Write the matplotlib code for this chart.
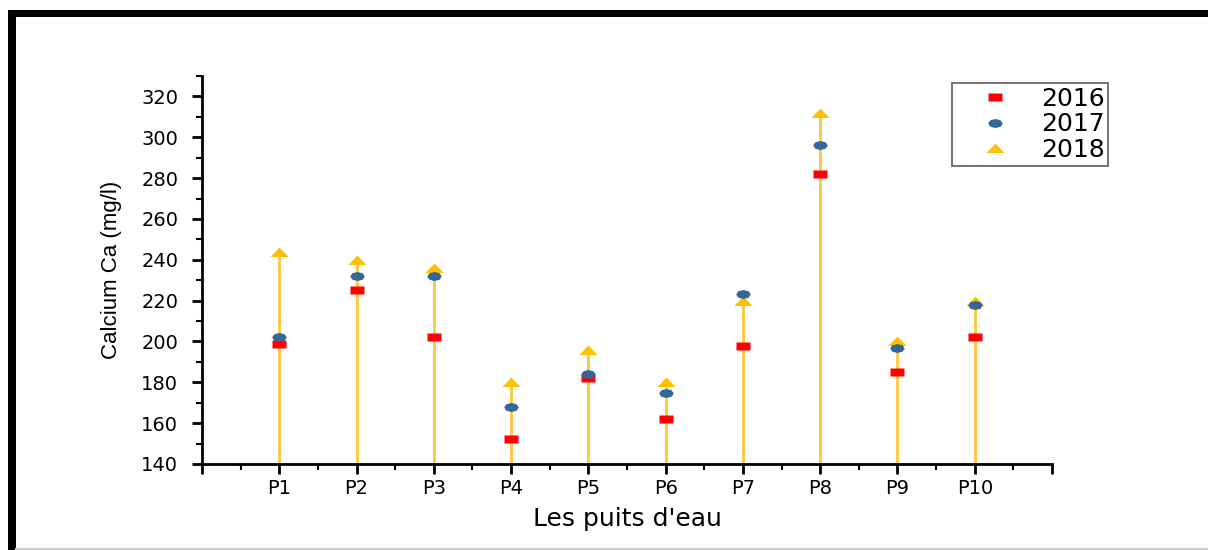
import numpy as np
import matplotlib
matplotlib.use("Agg")
import matplotlib.pyplot as plt
from matplotlib.lines import Line2D
from matplotlib.patches import Rectangle
from matplotlib.ticker import MultipleLocator

plt.rcParams['font.family'] = ['DejaVu Sans']

# calcium concentration per well (mg/l)
wells = ["P1", "P2", "P3", "P4", "P5", "P6", "P7", "P8", "P9", "P10"]
ca_2016 = [199, 225, 202, 152, 182, 162, 198, 282, 185, 202]
ca_2017 = [202, 232, 232, 168, 184, 175, 223, 296, 197, 218]
ca_2018 = [244, 240, 236, 180, 196, 180, 220, 312, 200, 220]

x = np.arange(1, len(wells) + 1)

# flattened markers (wider than tall)
rect = [(-1, -0.55), (1, -0.55), (1, 0.55), (-1, 0.55), (-1, -0.55)]
ell = [(np.cos(t), 0.62 * np.sin(t)) for t in np.linspace(0, 2 * np.pi, 9)]
tri = [(-1, -0.5), (1, -0.5), (0, 0.55), (-1, -0.5)]

fig = plt.figure(figsize=(12.08, 5.5), dpi=100)
ax = fig.add_axes([0.1672, 0.1564, 0.7037, 0.7054])

# drop lines for 2018
ax.vlines(x, 140, ca_2018, color="#ffc83a", lw=2, zorder=1)
ax.plot(x, ca_2016, ls="none", marker=rect, ms=10, color="#ff0000", mec="none", label="2016", zorder=3)
ax.plot(x, ca_2017, ls="none", marker=ell, ms=10.5, color="#336699", mec="none", label="2017", zorder=3)
ax.plot(x, ca_2018, ls="none", marker=tri, ms=13, color="#ffc000", mec="none", label="2018", zorder=2)

ax.set_xlim(0, 11)
ax.set_ylim(140, 330)
ax.set_xticks(np.arange(0, 12))
ax.set_xticklabels([""] + wells + [""])
ax.xaxis.set_minor_locator(MultipleLocator(0.5))
ax.set_yticks(np.arange(140, 321, 20))
ax.yaxis.set_minor_locator(MultipleLocator(10))

for s in ["top", "right"]:
    ax.spines[s].set_visible(False)
for s in ["left", "bottom"]:
    ax.spines[s].set_linewidth(2)
ax.tick_params(which="major", direction="out", length=7, width=2, labelsize=14)
ax.tick_params(axis="y", which="major", pad=10)
ax.tick_params(axis="x", which="major", pad=4)
ax.tick_params(which="minor", direction="out", length=4, width=1.5)

ax.set_xlabel("Les puits d'eau", fontsize=18, labelpad=6)
ax.set_ylabel("Calcium Ca (mg/l)", fontsize=16, labelpad=14,
              family=['Liberation Sans', 'DejaVu Sans'])

leg = ax.legend(loc="upper left", bbox_to_anchor=(952 / 1208, 1 - 83 / 550),
                bbox_transform=fig.transFigure, fontsize=18, frameon=True,
                fancybox=False, handletextpad=0.3, borderpad=0.15,
                labelspacing=0.06, handlelength=3.1, borderaxespad=0)
leg.get_frame().set_edgecolor("#333333")
leg.get_frame().set_linewidth(1.2)

# heavy page frame
fig.add_artist(Rectangle((8 / 1208, 1 - 17 / 550), 1, 7 / 550, transform=fig.transFigure,
                         color="black", lw=0))
fig.add_artist(Rectangle((8 / 1208, 0), 8 / 1208, 1 - 10 / 550, transform=fig.transFigure,
                         color="black", lw=0))
fig.add_artist(Line2D([16 / 1208, 1], [1.5 / 550, 1.5 / 550], transform=fig.transFigure,
                      color="#cccccc", lw=1.5))

fig.savefig("out.png", dpi=100)
